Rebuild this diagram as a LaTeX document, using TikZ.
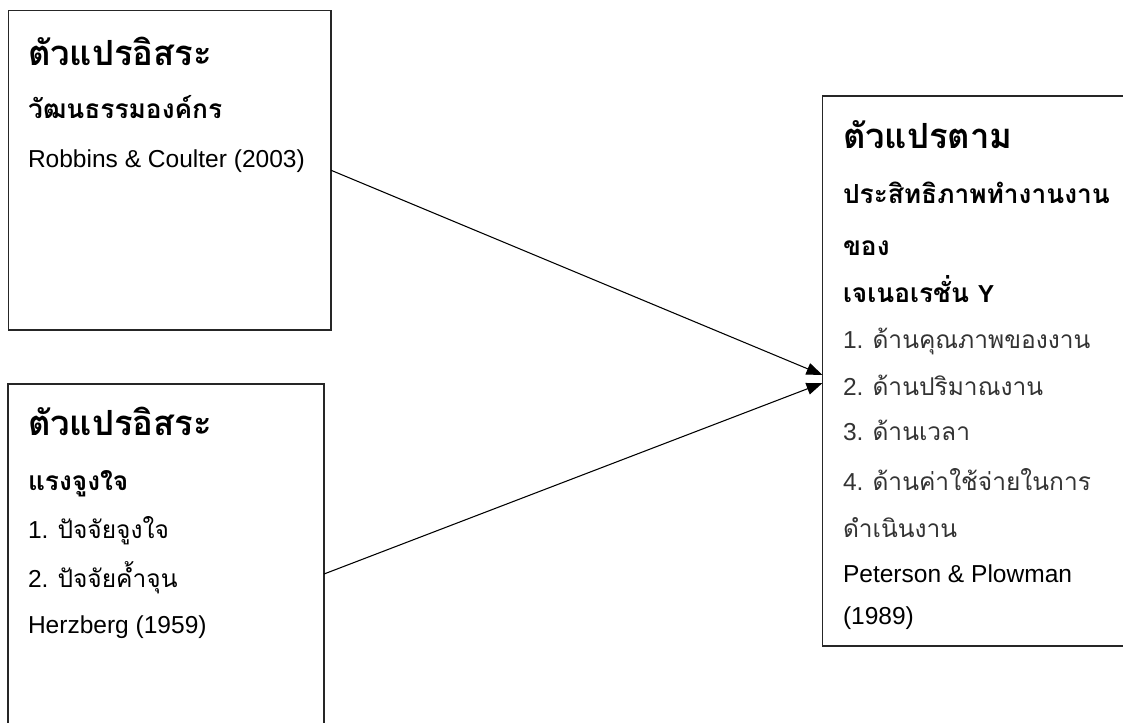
\documentclass[tikz,border=0pt]{standalone}
\usepackage{fontspec}
\setmainfont{Liberation Sans}
\newfontfamily\thaifont[Script=Thai]{Loma}
\usetikzlibrary{arrows.meta}
\newcommand\thx[1]{{\thaifont #1}}
\tikzset{
  box/.style={draw=black!85, line width=1.1pt, inner sep=0pt, outer sep=0pt, rectangle},
  txt/.style={anchor=base west, inner sep=0pt, outer sep=0pt, text=black,
    font=\fontsize{18.4}{22}\selectfont},
  sub/.style={txt, font=\thaifont\bfseries\fontsize{19.7}{24}\selectfont},
  head/.style={txt, font=\thaifont\bfseries\fontsize{26}{31}\selectfont},
  link/.style={line width=0.8pt, -{Triangle[length=12pt,width=9pt]}}
}
\begin{document}
\begin{tikzpicture}[x=0.75pt,y=-0.75pt]
\clip (0,0) rectangle (1123,722);
% boxes
\node[box, minimum width=241.9pt, minimum height=239.6pt] (b1) at (169.75,170.25) {};
\node[box, minimum width=237pt, minimum height=285pt] (b2) at (166,574) {};
\node[box, minimum width=238.1pt, minimum height=412.5pt] (b3) at (981.25,371) {};
% box 1 text
\node[head] (a1) at (28,65) {ตัวแปรอิสระ};
\node[sub]  (a2) at (28,118) {วัฒนธรรมองค์กร};
\node[txt]  (a3) at (28,167) {Robbins \& Coulter (2003)};
% box 2 text
\node[head] (c1) at (28,435) {ตัวแปรอิสระ};
\node[sub]  (c2) at (28,490) {แรงจูงใจ};
\node[txt]  (c3) at (28,538) {1. \thx{ปัจจัยจูงใจ}};
\node[txt]  (c4) at (28,587) {2. \thx{ปัจจัยค้ำจุน}};
\node[txt]  (c5) at (28,633) {Herzberg (1959)};
% box 3 text
\node[head] (d1) at (843,148) {ตัวแปรตาม};
\node[sub]  (d2) at (843,203) {ประสิทธิภาพทำงานงาน};
\node[sub]  (d3) at (843,255) {ของ};
\node[sub]  (d4) at (843,302) {เจเนอเรชั่น {\fontspec{Liberation Sans}\bfseries\fontsize{18.4}{22}\selectfont Y}};
\node[txt, text=black!80]  (d5) at (843,348) {1. \thx{ด้านคุณภาพของงาน}};
\node[txt, text=black!80]  (d6) at (843,395) {2. \thx{ด้านปริมาณงาน}};
\node[txt, text=black!80]  (d7) at (843,440) {3. \thx{ด้านเวลา}};
\node[txt, text=black!80]  (d8) at (843,490) {4. \thx{ด้านค่าใช้จ่ายในการ}};
\node[txt, text=black!80]  (d9) at (843,537) {\thx{ดำเนินงาน}};
\node[txt]  (d10) at (843,582) {Peterson \& Plowman};
\node[txt]  (d11) at (843,624) {(1989)};
% connectors
\draw[link] (b1.east) -- ([yshift=-3pt]b3.west);
\draw[link] (b2.east) -- ([yshift=-9pt]b3.west);
\end{tikzpicture}
\end{document}
